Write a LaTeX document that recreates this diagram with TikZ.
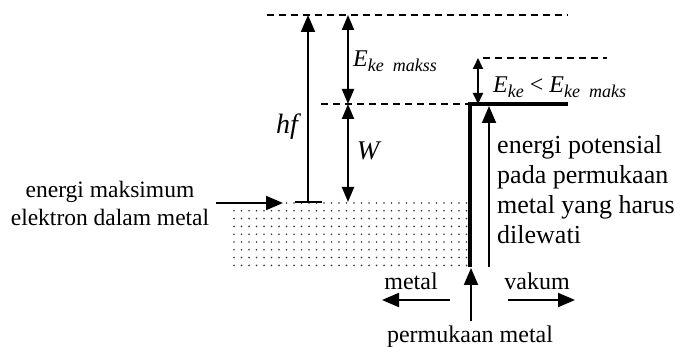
\documentclass[tikz,border=0pt]{standalone}
\usepackage{fontspec}
\setmainfont{Liberation Serif}
\usetikzlibrary{arrows.meta}

\newcommand{\sublab}[1]{\raisebox{-5pt}{\fontsize{18}{18}\selectfont\itshape #1}}

\begin{document}
\begin{tikzpicture}[x=1pt, y=-1pt,
  level/.style={dash pattern=on 7pt off 5pt, line width=1.4pt},
  uparrow/.style={line width=2pt, -{Triangle[length=17pt,width=14pt]}},
  twoarrow/.style={line width=2pt, {Triangle[length=15pt,width=12pt]}-{Triangle[length=15pt,width=12pt]}},
  smallarrow/.style={line width=1.8pt, {Triangle[length=11pt,width=10pt]}-{Triangle[length=11pt,width=10pt]}},
  txt/.style={inner sep=0pt, font=\fontsize{24}{28}\selectfont}]
\useasboundingbox (0,0) rectangle (680,347);

\foreach \i in {0,...,31}
  \foreach \j in {0,...,8}
    \fill[black!80] (234+7.5*\i, 203+7.8*\j) circle (0.9pt);

\coordinate (topL) at (267,15);
\coordinate (topR) at (568,15);
\coordinate (midL) at (321,104);
\coordinate (step) at (470,104);
\coordinate (stepR) at (568,104);
\coordinate (stepB) at (470,267);
\coordinate (smallL) at (483,58);
\coordinate (smallR) at (607,58);

\coordinate (hfB) at (308,202);
\coordinate (hfT) at (308,15);
\coordinate (tickL) at (295,202);
\coordinate (tickR) at (322,202);
\coordinate (ekT) at (348,15);
\coordinate (ekM) at (348,104);
\coordinate (wB) at (348,202);
\coordinate (keT) at (478,58);
\coordinate (keB) at (478,104);
\coordinate (potB) at (489,267);
\coordinate (potT) at (489,106);

\draw[level] (topL) -- (topR);
\draw[level] (midL) -- (step);
\draw[level] (smallL) -- (smallR);
\draw[line width=3.8pt] (stepB) -- (step) -- (stepR);

\draw[uparrow] (hfB) -- (hfT);
\draw[line width=2pt] (tickL) -- (tickR);
\draw[twoarrow] (ekT) -- (ekM);
\draw[twoarrow] (ekM) -- (wB);
\draw[smallarrow] (keT) -- (keB);
\draw[uparrow, line width=1.8pt] (potB) -- (potT);

\node[txt, font=\fontsize{28}{30}\selectfont] (hf) at (287,127) {\itshape hf};
\node[txt, font=\fontsize{27}{30}\selectfont] (w) at (368,151) {\itshape W};
\node[txt, anchor=base west] (ekmaks) at (353,67) {\itshape E\sublab{ke\ \ makss}};
\node[txt, anchor=base west] (ekcomp) at (493,93) {\itshape E\sublab{ke}\ \upshape<\ \itshape E\sublab{ke\ \ maks}};

\node[txt, anchor=north west, align=left, font=\fontsize{26}{30}\selectfont] (pot) at (497,135) {energi potensial\\pada permukaan\\metal yang harus\\dilewati};

\node[txt, anchor=north, align=center, font=\fontsize{23.5}{28}\selectfont] (fermi) at (110,181) {energi maksimum\\elektron dalam metal};
\coordinate (fermiT) at (283,203);
\draw[uparrow] (fermi.east |- fermiT) ++(7,0) coordinate (fermiS) -- (fermiT);

\node[txt, anchor=base] (metal) at (411,290) {metal};
\node[txt, anchor=base] (vakum) at (537,290) {vakum};
\node[txt, anchor=base] (surf) at (470,342) {permukaan metal};
\coordinate (metalR) at (450,300);
\coordinate (metalL) at (382,300);
\coordinate (vakumL) at (508,300);
\coordinate (vakumR) at (575,300);
\coordinate (surfT) at (471,268);
\draw[uparrow] (metalR) -- (metalL);
\draw[uparrow] (vakumL) -- (vakumR);
\draw[uparrow] (surf.north -| surfT) ++(0,-4) -- (surfT);
\end{tikzpicture}
\end{document}
